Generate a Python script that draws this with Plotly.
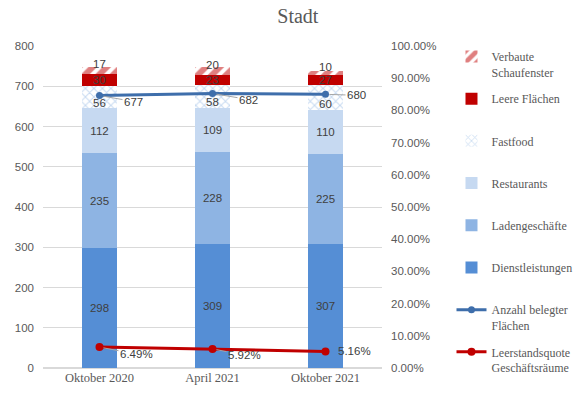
import plotly.graph_objects as go

categories = ["Oktober 2020", "April 2021", "Oktober 2021"]
dienstleistungen = [298, 309, 307]
ladengeschaefte = [235, 228, 225]
restaurants = [112, 109, 110]
fastfood = [56, 58, 60]
leere_flaechen = [30, 23, 27]
verbaute = [17, 20, 10]
anzahl_belegt = [677, 682, 680]
leerstandsquote = [0.0649, 0.0592, 0.0516]

SERIF = "Liberation Serif"
SANS = "Liberation Sans"
GREY = "#595959"
LABEL = "#404040"

fig = go.Figure()

def add_bar(name, vals, color, rank, pattern=None, text=True):
    marker = dict(color=color, line=dict(width=0))
    if pattern:
        marker["pattern"] = pattern
    fig.add_trace(go.Bar(
        x=categories, y=vals, name=name, marker=marker,
        text=vals if text else None,
        textposition="inside" if text else "none",
        insidetextanchor="middle",
        textfont=dict(family=SANS, size=11.5, color=LABEL),
        legendrank=rank, legendgroup=name,
        hoverinfo="skip",
    ))

add_bar("Dienstleistungen<br> ", dienstleistungen, "#558ED5", 6)
add_bar("Ladengeschäfte<br> ", ladengeschaefte, "#8EB4E3", 5)
add_bar("Restaurants<br> ", restaurants, "#C6D9F1", 4)
add_bar("Fastfood<br> ", fastfood, "white", 3,
        pattern=dict(shape="x", fgcolor="#8EB4E3", bgcolor="white", size=6, solidity=0.3),
        text=False)
add_bar("Leere Flächen<br> ", leere_flaechen, "#C00000", 2)
add_bar("Verbaute<br>Schaufenster", verbaute, "white", 1,
        pattern=dict(shape="/", fgcolor="#C00000", bgcolor="white", size=10, solidity=0.6),
        text=False)

fig.add_trace(go.Scatter(
    x=categories, y=anzahl_belegt, name="Anzahl belegter<br>Flächen",
    mode="lines+markers", line=dict(color="#3E6EAB", width=3),
    marker=dict(size=7, color="#3E6EAB"), legendrank=7, legendgroup="anz",
    hoverinfo="skip",
))
fig.add_trace(go.Scatter(
    x=categories, y=leerstandsquote, name="Leerstandsquote<br>Geschäftsräume",
    mode="lines+markers", line=dict(color="#C00000", width=3),
    marker=dict(size=8, color="#C00000"), legendrank=8, legendgroup="lq",
    yaxis="y2", hoverinfo="skip",
))

annotations = []
for i, c in enumerate(categories):
    base = dienstleistungen[i] + ladengeschaefte[i] + restaurants[i]
    annotations.append(dict(x=c, y=base + fastfood[i] / 2, text=str(fastfood[i]),
                            showarrow=False, yshift=-6,
                            font=dict(family=SANS, size=11.5, color=LABEL)))
    top = base + fastfood[i] + leere_flaechen[i]
    annotations.append(dict(x=c, y=top + verbaute[i] / 2, text=str(verbaute[i]),
                            showarrow=False, yshift=6,
                            font=dict(family=SANS, size=11.5, color=LABEL)))

anz_off = [(34, 6), (36, 6), (31, 1)]
for i, c in enumerate(categories):
    ax, ay = anz_off[i]
    annotations.append(dict(x=c, y=anzahl_belegt[i], text=str(anzahl_belegt[i]),
                            showarrow=True, arrowhead=0, arrowwidth=1, arrowcolor="#A6A6A6",
                            ax=ax, ay=ay, standoff=4,
                            font=dict(family=SANS, size=11.5, color=LABEL)))
lq_off = [(37, 7), (32, 6), (29, 0)]
for i, c in enumerate(categories):
    ax, ay = lq_off[i]
    annotations.append(dict(x=c, y=leerstandsquote[i], yref="y2",
                            text=f"{leerstandsquote[i]*100:.2f}%",
                            showarrow=(ay != 0), arrowhead=0, arrowwidth=1, arrowcolor="#A6A6A6",
                            ax=ax, ay=ay, standoff=4,
                            xshift=(ax if ay == 0 else 0),
                            font=dict(family=SANS, size=11.5, color=LABEL)))

fig.update_layout(
    width=584, height=396,
    margin=dict(l=43, r=202, t=46, b=28, autoexpand=False),
    paper_bgcolor="white", plot_bgcolor="white",
    barmode="stack", bargap=0.69,
    uniformtext=dict(minsize=11.5, mode="show"),
    title=dict(text="Stadt", x=0.51, xanchor="center", y=0.96, yanchor="middle",
               font=dict(family=SERIF, size=20, color=GREY)),
    xaxis=dict(type="category", showgrid=False, showline=False, ticks="", automargin=False,
               tickfont=dict(family=SERIF, size=12.5, color=GREY)),
    yaxis=dict(range=[0, 800], dtick=100, showgrid=True, gridcolor="#D9D9D9",
               gridwidth=1, zeroline=True, zerolinecolor="#D9D9D9", showline=False,
               ticklabelstandoff=8, automargin=False,
               tickfont=dict(family=SANS, size=11.5, color=GREY)),
    yaxis2=dict(range=[0, 1], dtick=0.1, tickformat=".2%", overlaying="y", side="right",
                showgrid=False, zeroline=False, showline=False, ticklabelstandoff=8,
                automargin=False,
                tickfont=dict(family=SANS, size=11.5, color=GREY)),
    legend=dict(x=1.205, y=1.012, xanchor="left", yanchor="top", traceorder="grouped",
                tracegroupgap=8, valign="top", maxheight=400,
                font=dict(family=SERIF, size=12, color=GREY)),
    annotations=annotations,
    showlegend=True,
)

fig.write_html("out.html", config={"displayModeBar": False},
               post_script="document.body.style.margin='0';")
